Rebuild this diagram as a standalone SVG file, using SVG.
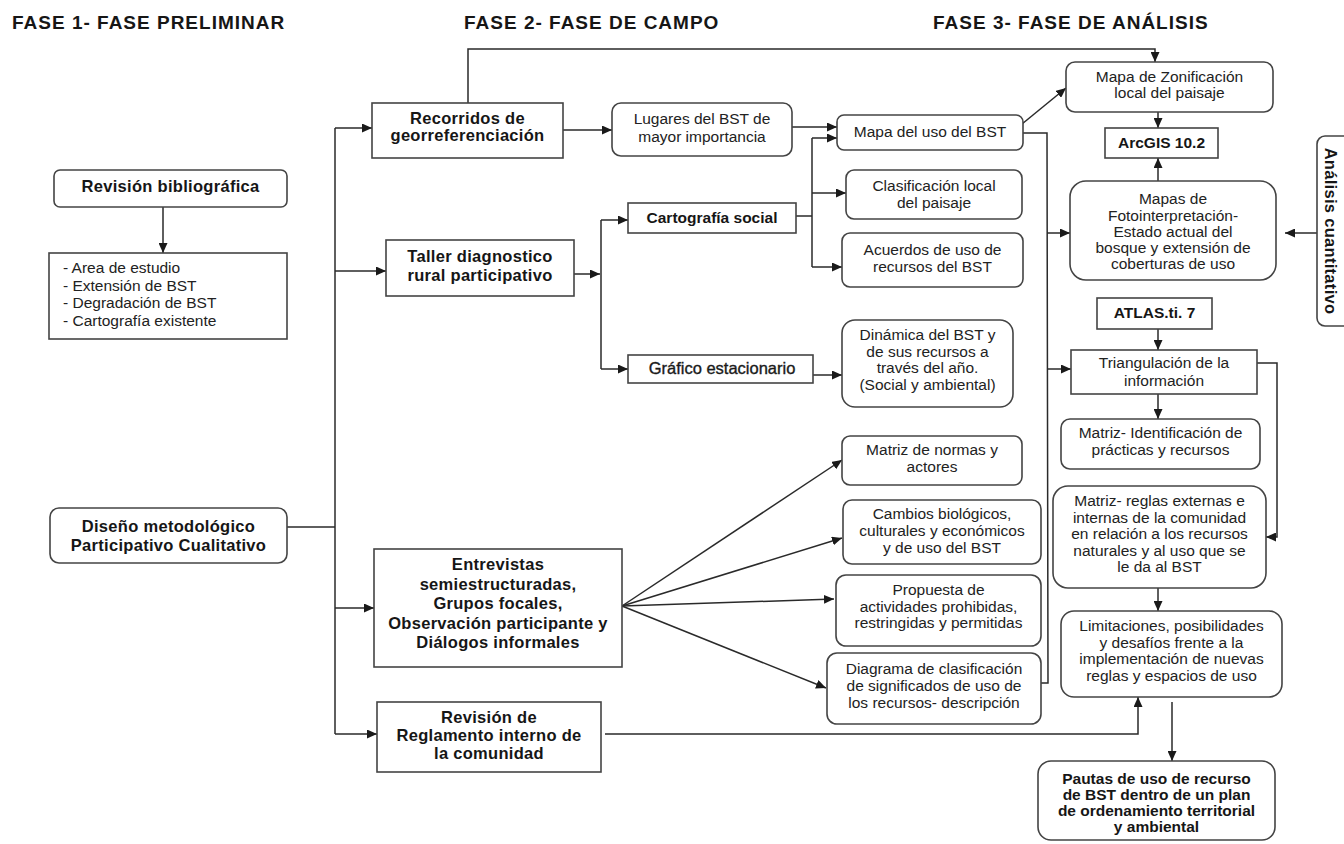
<svg xmlns="http://www.w3.org/2000/svg" width="1344" height="844" viewBox="0 0 1344 844">
<style>
text{font-family:"Liberation Sans",Arial,sans-serif;fill:#161616}
.h{font-size:19px;font-weight:bold;letter-spacing:1px}
.b{font-size:16.5px;font-weight:bold;letter-spacing:0.3px;text-anchor:middle}
.bs{font-size:15.5px;font-weight:bold;text-anchor:middle}
.r{font-size:15.5px;text-anchor:middle;fill:#222}
.l{font-size:15.5px;fill:#222}
.g{font-size:16.5px;text-anchor:middle;fill:#1a1a1a;stroke:#1a1a1a;stroke-width:0.35px}
.box{fill:#fff;stroke:#444;stroke-width:1.6}
.c{fill:none;stroke:#2a2a2a;stroke-width:1.5}
</style>
<defs>
<marker id="ah" markerUnits="userSpaceOnUse" markerWidth="11" markerHeight="9" refX="10" refY="4.5" orient="auto">
<path d="M0,0 L10,4.5 L0,9 z" fill="#1a1a1a"/>
</marker>
</defs>
<rect width="1344" height="844" fill="#fff"/>

<g id="headers">
<text class="h" x="12" y="29">FASE 1- FASE PRELIMINAR</text>
<text class="h" x="464" y="29">FASE 2- FASE DE CAMPO</text>
<text class="h" x="933" y="29">FASE 3- FASE DE ANÁLISIS</text>
</g>

<g id="connectors">
<line class="c" x1="163" y1="207" x2="163" y2="253" marker-end="url(#ah)"/>
<polyline class="c" points="287,527 335,527"/>
<line class="c" x1="335" y1="128" x2="335" y2="734"/>
<line class="c" x1="335" y1="128" x2="372" y2="128" marker-end="url(#ah)"/>
<line class="c" x1="335" y1="271" x2="386" y2="271" marker-end="url(#ah)"/>
<line class="c" x1="335" y1="608" x2="374" y2="608" marker-end="url(#ah)"/>
<line class="c" x1="335" y1="734" x2="377" y2="734" marker-end="url(#ah)"/>
<polyline class="c" points="468,103 468,49 1155,49 1155,62" marker-end="url(#ah)"/>
<line class="c" x1="563" y1="130" x2="612" y2="130" marker-end="url(#ah)"/>
<line class="c" x1="792" y1="127" x2="837" y2="127" marker-end="url(#ah)"/>
<line class="c" x1="574" y1="274" x2="600" y2="274" marker-end="url(#ah)"/>
<line class="c" x1="601" y1="220" x2="601" y2="369"/>
<line class="c" x1="601" y1="220" x2="628" y2="220" marker-end="url(#ah)"/>
<line class="c" x1="601" y1="369" x2="628" y2="369" marker-end="url(#ah)"/>
<line class="c" x1="796" y1="216" x2="812" y2="216"/>
<line class="c" x1="812" y1="138" x2="812" y2="267"/>
<line class="c" x1="812" y1="138" x2="837" y2="138" marker-end="url(#ah)"/>
<line class="c" x1="812" y1="193" x2="846" y2="193" marker-end="url(#ah)"/>
<line class="c" x1="812" y1="267" x2="842" y2="267" marker-end="url(#ah)"/>
<line class="c" x1="813" y1="375" x2="842" y2="375" marker-end="url(#ah)"/>
<line class="c" x1="622" y1="606" x2="842" y2="460" marker-end="url(#ah)"/>
<line class="c" x1="622" y1="606" x2="842" y2="538" marker-end="url(#ah)"/>
<line class="c" x1="622" y1="606" x2="834" y2="599" marker-end="url(#ah)"/>
<line class="c" x1="622" y1="606" x2="826" y2="688" marker-end="url(#ah)"/>
<polyline class="c" points="605,734 1138,734 1138,697" marker-end="url(#ah)"/>
<line class="c" x1="1022" y1="124" x2="1066" y2="88" marker-end="url(#ah)"/>
<line class="c" x1="1158" y1="112" x2="1158" y2="128" marker-end="url(#ah)"/>
<line class="c" x1="1158" y1="181" x2="1158" y2="158" marker-end="url(#ah)"/>
<polyline class="c" points="1023,133 1047,133 1048,683 1041,683"/>
<line class="c" x1="1047" y1="233" x2="1070" y2="233" marker-end="url(#ah)"/>
<line class="c" x1="1047" y1="369" x2="1071" y2="369" marker-end="url(#ah)"/>
<line class="c" x1="1317" y1="233" x2="1285" y2="233" marker-end="url(#ah)"/>
<line class="c" x1="1158" y1="329" x2="1158" y2="350" marker-end="url(#ah)"/>
<line class="c" x1="1158" y1="394" x2="1158" y2="419" marker-end="url(#ah)"/>
<polyline class="c" points="1257,363 1277,363 1277,537 1266,537" marker-end="url(#ah)"/>
<line class="c" x1="1158" y1="588" x2="1158" y2="611" marker-end="url(#ah)"/>
<line class="c" x1="1172" y1="702" x2="1172" y2="761" marker-end="url(#ah)"/>
</g>

<g id="rev_bib">
<rect class="box" x="54" y="170" width="233" height="37" rx="6"/>
<text class="b" x="170.5" y="192">Revisión bibliográfica</text>
</g>
<g id="lista">
<rect class="box" x="49" y="253" width="238" height="86"/>
<text class="l" x="63" y="273">- Area de estudio</text>
<text class="l" x="63" y="290.5">- Extensión de BST</text>
<text class="l" x="63" y="308">- Degradación de BST</text>
<text class="l" x="63" y="325.5">- Cartografía existente</text>
</g>
<g id="diseno">
<rect class="box" x="50" y="508" width="237" height="55" rx="9"/>
<text class="b" x="168.5" y="532">Diseño metodológico</text>
<text class="b" x="168.5" y="551">Participativo Cualitativo</text>
</g>
<g id="recorridos">
<rect class="box" x="372" y="103" width="191" height="55"/>
<text class="b" x="467.5" y="124">Recorridos de</text>
<text class="b" x="467.5" y="141">georreferenciación</text>
</g>
<g id="taller">
<rect class="box" x="386" y="240" width="188" height="56"/>
<text class="b" x="480" y="262">Taller diagnostico</text>
<text class="b" x="480" y="281">rural participativo</text>
</g>
<g id="entrevistas">
<rect class="box" x="374" y="549" width="248" height="118"/>
<text class="b" x="498" y="570">Entrevistas</text>
<text class="b" x="498" y="589.5">semiestructuradas,</text>
<text class="b" x="498" y="609">Grupos focales,</text>
<text class="b" x="498" y="628.5">Observación participante y</text>
<text class="b" x="498" y="648">Diálogos informales</text>
</g>
<g id="reglamento">
<rect class="box" x="377" y="702" width="224" height="70"/>
<text class="b" x="489" y="723">Revisión de</text>
<text class="b" x="489" y="741">Reglamento interno de</text>
<text class="b" x="489" y="759">la comunidad</text>
</g>
<g id="lugares">
<rect class="box" x="612" y="103" width="180" height="53" rx="9"/>
<text class="r" x="702" y="124">Lugares del BST de</text>
<text class="r" x="702" y="141.5">mayor importancia</text>
</g>
<g id="cartografia">
<rect class="box" x="628" y="203" width="168" height="30"/>
<text class="bs" x="712" y="223">Cartografía social</text>
</g>
<g id="grafico">
<rect class="box" x="628" y="355" width="185" height="28"/>
<text class="g" x="722" y="374">Gráfico estacionario</text>
</g>
<g id="mapa_uso">
<rect class="box" x="837" y="115" width="186" height="35" rx="7"/>
<text class="r" x="930" y="137">Mapa del uso del BST</text>
</g>
<g id="clasificacion">
<rect class="box" x="846" y="170" width="176" height="49" rx="8"/>
<text class="r" x="934" y="191">Clasificación local</text>
<text class="r" x="934" y="208">del paisaje</text>
</g>
<g id="acuerdos">
<rect class="box" x="842" y="233" width="181" height="54" rx="8"/>
<text class="r" x="932.5" y="255">Acuerdos de uso de</text>
<text class="r" x="932.5" y="272">recursos del BST</text>
</g>
<g id="dinamica">
<rect class="box" x="842" y="320" width="171" height="87" rx="13"/>
<text class="r" x="927.5" y="340">Dinámica del BST y</text>
<text class="r" x="927.5" y="357">de sus recursos a</text>
<text class="r" x="927.5" y="373">través del año.</text>
<text class="r" x="927.5" y="390">(Social y ambiental)</text>
</g>
<g id="normas">
<rect class="box" x="842" y="436" width="180" height="49" rx="8"/>
<text class="r" x="932" y="455">Matriz de normas y</text>
<text class="r" x="932" y="472">actores</text>
</g>
<g id="cambios">
<rect class="box" x="843" y="500" width="198" height="64" rx="9"/>
<text class="r" x="942" y="519">Cambios biológicos,</text>
<text class="r" x="942" y="536">culturales y económicos</text>
<text class="r" x="942" y="553">y de uso del BST</text>
</g>
<g id="propuesta">
<rect class="box" x="836" y="575" width="205" height="71" rx="10"/>
<text class="r" x="938.5" y="595">Propuesta de</text>
<text class="r" x="938.5" y="611.5">actividades prohibidas,</text>
<text class="r" x="938.5" y="628">restringidas y permitidas</text>
</g>
<g id="diagrama">
<rect class="box" x="827" y="653" width="214" height="71" rx="10"/>
<text class="r" x="934" y="674">Diagrama de clasificación</text>
<text class="r" x="934" y="691">de significados de uso de</text>
<text class="r" x="934" y="708">los recursos- descripción</text>
</g>
<g id="zonificacion">
<rect class="box" x="1066" y="62" width="207" height="50" rx="9"/>
<text class="r" x="1169.5" y="82">Mapa de Zonificación</text>
<text class="r" x="1169.5" y="98">local del paisaje</text>
</g>
<g id="arcgis">
<rect class="box" x="1105" y="128" width="113" height="30"/>
<text class="bs" x="1161.5" y="148">ArcGIS 10.2</text>
</g>
<g id="fotointerpretacion">
<rect class="box" x="1070" y="181" width="206" height="99" rx="16"/>
<text class="r" x="1173" y="204">Mapas de</text>
<text class="r" x="1173" y="220.5">Fotointerpretación-</text>
<text class="r" x="1173" y="237">Estado actual del</text>
<text class="r" x="1173" y="253">bosque y extensión de</text>
<text class="r" x="1173" y="269">coberturas de uso</text>
</g>
<g id="analisis">
<rect class="box" x="1317" y="136" width="40" height="190" rx="8"/>
<text class="b" transform="translate(1331,231) rotate(90)" x="0" y="6">Análisis cuantitativo</text>
</g>
<g id="atlas">
<rect class="box" x="1097" y="298" width="115" height="31"/>
<text class="bs" x="1154.5" y="318">ATLAS.ti. 7</text>
</g>
<g id="triangulacion">
<rect class="box" x="1071" y="350" width="186" height="44"/>
<text class="r" x="1164" y="368">Triangulación de la</text>
<text class="r" x="1164" y="386">información</text>
</g>
<g id="matriz_identificacion">
<rect class="box" x="1061" y="419" width="199" height="50" rx="9"/>
<text class="r" x="1160.5" y="438">Matriz- Identificación de</text>
<text class="r" x="1160.5" y="455">prácticas y recursos</text>
</g>
<g id="matriz_reglas">
<rect class="box" x="1053" y="486" width="213" height="102" rx="15"/>
<text class="r" x="1159.5" y="506">Matriz- reglas externas e</text>
<text class="r" x="1159.5" y="522.5">internas de la comunidad</text>
<text class="r" x="1159.5" y="539">en relación a los recursos</text>
<text class="r" x="1159.5" y="555.5">naturales y al uso que se</text>
<text class="r" x="1159.5" y="572">le da al BST</text>
</g>
<g id="limitaciones">
<rect class="box" x="1061" y="611" width="221" height="86" rx="13"/>
<text class="r" x="1171.5" y="631">Limitaciones, posibilidades</text>
<text class="r" x="1171.5" y="648">y desafíos frente a la</text>
<text class="r" x="1171.5" y="664">implementación de nuevas</text>
<text class="r" x="1171.5" y="681">reglas y espacios de uso</text>
</g>
<g id="pautas">
<rect class="box" x="1038" y="761" width="237" height="79" rx="13"/>
<text class="bs" x="1156.5" y="784">Pautas de uso de recurso</text>
<text class="bs" x="1156.5" y="800">de BST dentro de un plan</text>
<text class="bs" x="1156.5" y="816">de ordenamiento territorial</text>
<text class="bs" x="1156.5" y="832">y ambiental</text>
</g>
</svg>
